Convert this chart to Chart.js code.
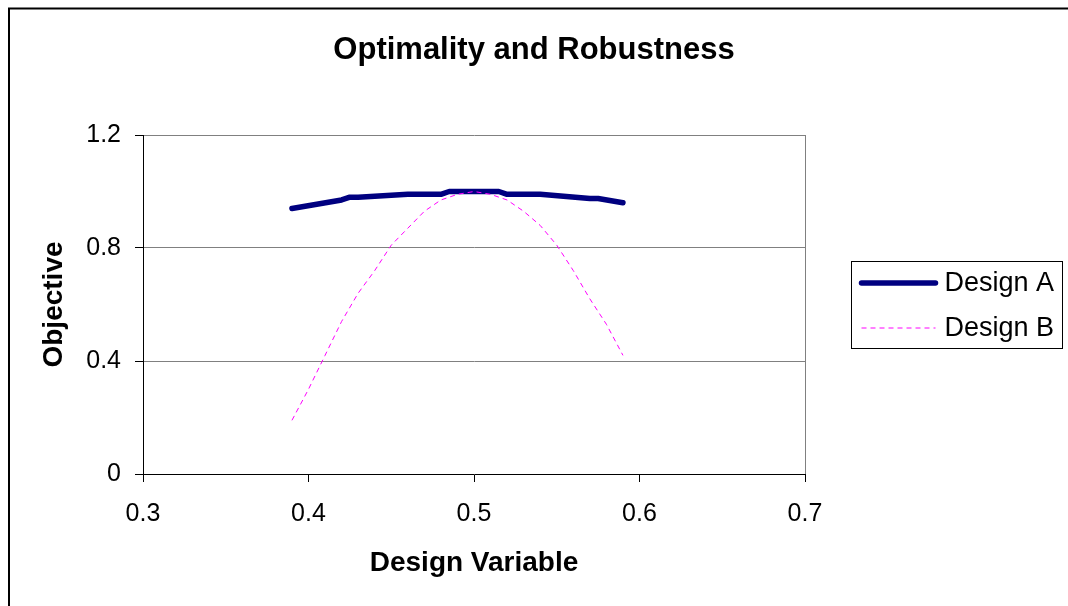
<!DOCTYPE html>
<html>
<head>
<meta charset="utf-8">
<script src="https://cdn.jsdelivr.net/npm/chart.js@4.4.1/dist/chart.umd.min.js"></script>
<style>
html,body{margin:0;padding:0;background:#fff}
#wrap{width:1068px;height:606px;position:relative}
</style>
</head>
<body>
<div id="wrap"><canvas id="chart"></canvas></div>
<script>

const titleText="Optimality and Robustness"
const xTitle="Design Variable"
const yTitle="Objective"
const seriesNames=["Design A","Design B"]

const xTicks=[0.3,0.4,0.5,0.6,0.7]
const yTicks=[0,0.4,0.8,1.2]

// Design A (flat, robust)
const xA=[0.39,0.42,0.425,0.43,0.46,0.48,0.485,0.515,0.52,0.54,0.57,0.575,0.59]
const yA=[0.94,0.97,0.98,0.98,0.99,0.99,1.0,1.0,0.99,0.99,0.975,0.975,0.96]

// Design B (sharp peak)
const xB=[0.39,0.40,0.41,0.42,0.43,0.44,0.45,0.46,0.47,0.48,0.49,0.50,0.51,0.52,0.53,0.54,0.55,0.56,0.57,0.58,0.59]
const yB=[0.19,0.30,0.42,0.54,0.64,0.72,0.81,0.87,0.93,0.97,0.99,1.00,0.99,0.97,0.93,0.88,0.81,0.72,0.62,0.53,0.42]

const font="'Liberation Sans', Arial, sans-serif"

function pts(xs,ys){
return xs.map((x,i)=>({x:x,y:ys[i]}))
}

const framePlugin={
id:"frame",
beforeDraw(chart){
const c=chart.ctx
c.save()
c.fillStyle="#fff"
c.fillRect(0,0,chart.width,chart.height)
c.strokeStyle="#000"
c.lineWidth=2
c.strokeRect(9,8.5,chart.width+20,chart.height+20)
c.restore()
}
}

const legendPlugin={
id:"boxLegend",
afterDraw(chart){
const c=chart.ctx
const a=chart.chartArea
const bx=a.right+46.5
const by=261.5
const bw=211
const bh=87
c.save()
c.strokeStyle="#000"
c.lineWidth=1
c.strokeRect(bx,by,bw,bh)
c.font="27px "+font
c.textBaseline="middle"
c.fillStyle="#000"
chart.data.datasets.forEach((ds,i)=>{
const y=by+21.5+i*45
c.beginPath()
c.strokeStyle=ds.borderColor
c.lineWidth=ds.borderWidth
c.lineCap=ds.borderCapStyle||"butt"
c.setLineDash(ds.borderDash||[])
c.moveTo(bx+10,y)
c.lineTo(bx+84,y)
c.stroke()
c.setLineDash([])
c.fillText(ds.label,bx+93,y+1)
})
c.restore()
}
}

const ctx=document.getElementById("chart")

new Chart(ctx,{
type:"scatter",
data:{
datasets:[{
label:seriesNames[0],
data:pts(xA,yA),
showLine:true,
borderColor:"#000080",
backgroundColor:"#000080",
borderWidth:5.5,
borderCapStyle:"round",
borderJoinStyle:"round",
pointRadius:0,
order:1
},{
label:seriesNames[1],
data:pts(xB,yB),
showLine:true,
borderColor:"#FF00FF",
backgroundColor:"#FF00FF",
borderWidth:1,
borderDash:[5,4],
pointRadius:0,
order:0
}]
},
options:{
responsive:true,
maintainAspectRatio:false,
animation:false,
layout:{padding:0},
plugins:{
legend:{display:false},
tooltip:{enabled:false},
title:{
display:true,
text:titleText,
color:"#000",
font:{family:font,size:31,weight:"bold"},
padding:{top:31.5,bottom:66.3}
}
},
scales:{
x:{
type:"linear",
min:0.3,
max:0.7,
afterBuildTicks(s){s.ticks=xTicks.map(v=>({value:v}))},
afterFit(s){s.height=132},
ticks:{
color:"#000",
font:{family:font,size:25},
padding:17,
maxRotation:0,
callback:v=>v.toFixed(1)
},
grid:{
color:c=>c.index===xTicks.length-1?"#808080":"rgba(0,0,0,0)",
tickColor:"#000",
tickLength:8,
lineWidth:1
},
border:{color:"#000",width:1},
title:{
display:true,
text:xTitle,
color:"#000",
font:{family:font,size:28,weight:"bold"},
padding:{top:0,bottom:26}
}
},
y:{
type:"linear",
min:0,
max:1.2,
afterBuildTicks(s){s.ticks=yTicks.map(v=>({value:v}))},
afterFit(s){s.width=143},
ticks:{
color:"#000",
font:{family:font,size:25},
padding:14,
callback:v=>v===0?"0":String(v)
},
grid:{
color:c=>c.index===0?"rgba(0,0,0,0)":"#808080",
tickColor:"#000",
tickLength:8,
lineWidth:1
},
border:{color:"#000",width:1},
title:{
display:true,
text:yTitle,
color:"#000",
font:{family:font,size:28,weight:"bold"},
padding:{top:37,bottom:0}
}
},
// empty right-hand axis that only reserves room for the legend
side:{
type:"linear",
position:"right",
min:0,
max:1,
afterFit(s){s.width=263},
ticks:{display:false},
grid:{display:false,drawOnChartArea:false},
border:{display:false}
}
}
},
plugins:[framePlugin,legendPlugin]
})

</script>
</body>
</html>
